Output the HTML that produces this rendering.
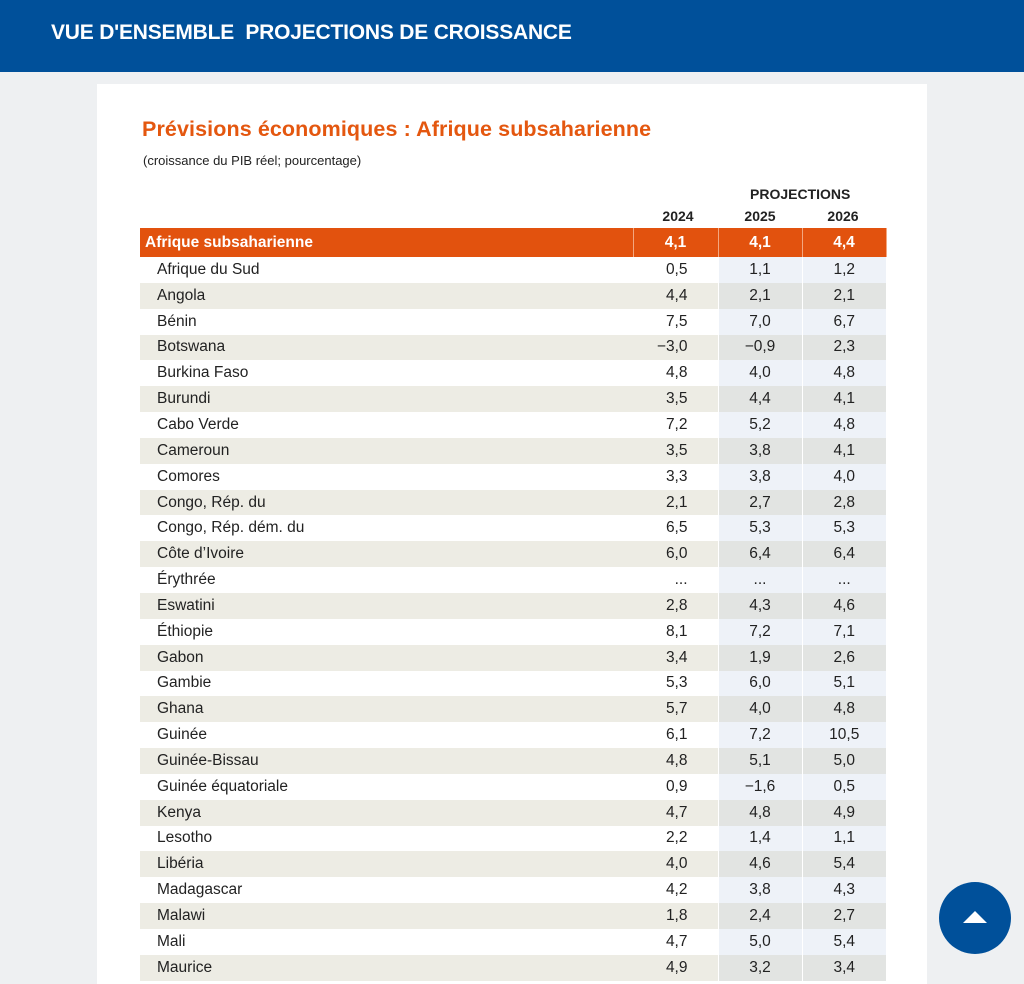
<!DOCTYPE html>
<html><head><meta charset="utf-8"><style>
*{margin:0;padding:0;box-sizing:border-box}
body{width:1024px;height:966px;overflow:hidden;background:#eef0f2;font-family:"Liberation Sans",sans-serif;position:relative}
.hdr{position:absolute;left:0;top:0;width:1024px;height:72px;background:#00509a;color:#fff;font-size:21px;font-weight:bold;letter-spacing:-0.2px;padding:21px 0 0 51px}
.card{position:absolute;left:97px;top:84px;width:830px;height:900px;background:#fff}
.t{position:absolute;left:142px;top:117px;color:#e4570f;font-size:21.5px;font-weight:bold;letter-spacing:0.1px}
.s{position:absolute;left:143px;top:153px;font-size:13px;color:#222}
.ph{position:absolute;left:750px;top:186px;font-size:14px;font-weight:bold;color:#222}
.yr{position:absolute;top:208px;font-size:14px;font-weight:bold;color:#222;width:84px;text-align:center}
table{position:absolute;left:140px;top:228px;border-collapse:collapse;font-size:15.5px;color:#222}
td{height:25.85px;padding:0;text-align:center}
td.l{width:493px;text-align:left;padding-left:17px}
td.a{width:85px;text-align:right;padding-right:30px}
td.b,td.c{width:84px}
tr.o td{background:#e2520e;color:#fff;font-weight:bold;height:29px;border-right:1px solid #f3a77f}
tr.o td.l{padding-left:5px}
tr:nth-child(odd):not(.o) td{background:#edece4}
tr:nth-child(odd):not(.o) td.b,tr:nth-child(odd):not(.o) td.c{background:#e2e4e2}
tr:nth-child(even) td.b,tr:nth-child(even) td.c{background:#eef2f8}
td.a{border-right:1px solid #fff}td.b{border-right:1px solid #fff}
.up{position:absolute;left:939px;top:882px;width:72px;height:72px;border-radius:50%;background:#00509a}
.up:after{content:"";position:absolute;left:24px;top:29px;border-left:12px solid transparent;border-right:12px solid transparent;border-bottom:12px solid #fff}
</style></head><body>
<div class="hdr">VUE D'ENSEMBLE&nbsp; PROJECTIONS DE CROISSANCE</div>
<div class="card"></div>
<div class="t">Prévisions économiques : Afrique subsaharienne</div>
<div class="s">(croissance du PIB réel; pourcentage)</div>
<div class="ph">PROJECTIONS</div>
<div class="yr" style="left:636px">2024</div>
<div class="yr" style="left:718px">2025</div>
<div class="yr" style="left:801px">2026</div>
<table>
<tr class="o"><td class="l">Afrique subsaharienne</td><td class="a" style="text-align:center;padding:0">4,1</td><td class="b">4,1</td><td class="c">4,4</td></tr>
<tr><td class="l">Afrique du Sud</td><td class="a">0,5</td><td class="b">1,1</td><td class="c">1,2</td></tr>
<tr><td class="l">Angola</td><td class="a">4,4</td><td class="b">2,1</td><td class="c">2,1</td></tr>
<tr><td class="l">Bénin</td><td class="a">7,5</td><td class="b">7,0</td><td class="c">6,7</td></tr>
<tr><td class="l">Botswana</td><td class="a">−3,0</td><td class="b">−0,9</td><td class="c">2,3</td></tr>
<tr><td class="l">Burkina Faso</td><td class="a">4,8</td><td class="b">4,0</td><td class="c">4,8</td></tr>
<tr><td class="l">Burundi</td><td class="a">3,5</td><td class="b">4,4</td><td class="c">4,1</td></tr>
<tr><td class="l">Cabo Verde</td><td class="a">7,2</td><td class="b">5,2</td><td class="c">4,8</td></tr>
<tr><td class="l">Cameroun</td><td class="a">3,5</td><td class="b">3,8</td><td class="c">4,1</td></tr>
<tr><td class="l">Comores</td><td class="a">3,3</td><td class="b">3,8</td><td class="c">4,0</td></tr>
<tr><td class="l">Congo, Rép. du</td><td class="a">2,1</td><td class="b">2,7</td><td class="c">2,8</td></tr>
<tr><td class="l">Congo, Rép. dém. du</td><td class="a">6,5</td><td class="b">5,3</td><td class="c">5,3</td></tr>
<tr><td class="l">Côte d’Ivoire</td><td class="a">6,0</td><td class="b">6,4</td><td class="c">6,4</td></tr>
<tr><td class="l">Érythrée</td><td class="a">...</td><td class="b">...</td><td class="c">...</td></tr>
<tr><td class="l">Eswatini</td><td class="a">2,8</td><td class="b">4,3</td><td class="c">4,6</td></tr>
<tr><td class="l">Éthiopie</td><td class="a">8,1</td><td class="b">7,2</td><td class="c">7,1</td></tr>
<tr><td class="l">Gabon</td><td class="a">3,4</td><td class="b">1,9</td><td class="c">2,6</td></tr>
<tr><td class="l">Gambie</td><td class="a">5,3</td><td class="b">6,0</td><td class="c">5,1</td></tr>
<tr><td class="l">Ghana</td><td class="a">5,7</td><td class="b">4,0</td><td class="c">4,8</td></tr>
<tr><td class="l">Guinée</td><td class="a">6,1</td><td class="b">7,2</td><td class="c">10,5</td></tr>
<tr><td class="l">Guinée-Bissau</td><td class="a">4,8</td><td class="b">5,1</td><td class="c">5,0</td></tr>
<tr><td class="l">Guinée équatoriale</td><td class="a">0,9</td><td class="b">−1,6</td><td class="c">0,5</td></tr>
<tr><td class="l">Kenya</td><td class="a">4,7</td><td class="b">4,8</td><td class="c">4,9</td></tr>
<tr><td class="l">Lesotho</td><td class="a">2,2</td><td class="b">1,4</td><td class="c">1,1</td></tr>
<tr><td class="l">Libéria</td><td class="a">4,0</td><td class="b">4,6</td><td class="c">5,4</td></tr>
<tr><td class="l">Madagascar</td><td class="a">4,2</td><td class="b">3,8</td><td class="c">4,3</td></tr>
<tr><td class="l">Malawi</td><td class="a">1,8</td><td class="b">2,4</td><td class="c">2,7</td></tr>
<tr><td class="l">Mali</td><td class="a">4,7</td><td class="b">5,0</td><td class="c">5,4</td></tr>
<tr><td class="l">Maurice</td><td class="a">4,9</td><td class="b">3,2</td><td class="c">3,4</td></tr>
</table>
<div class="up"></div>
</body></html>
